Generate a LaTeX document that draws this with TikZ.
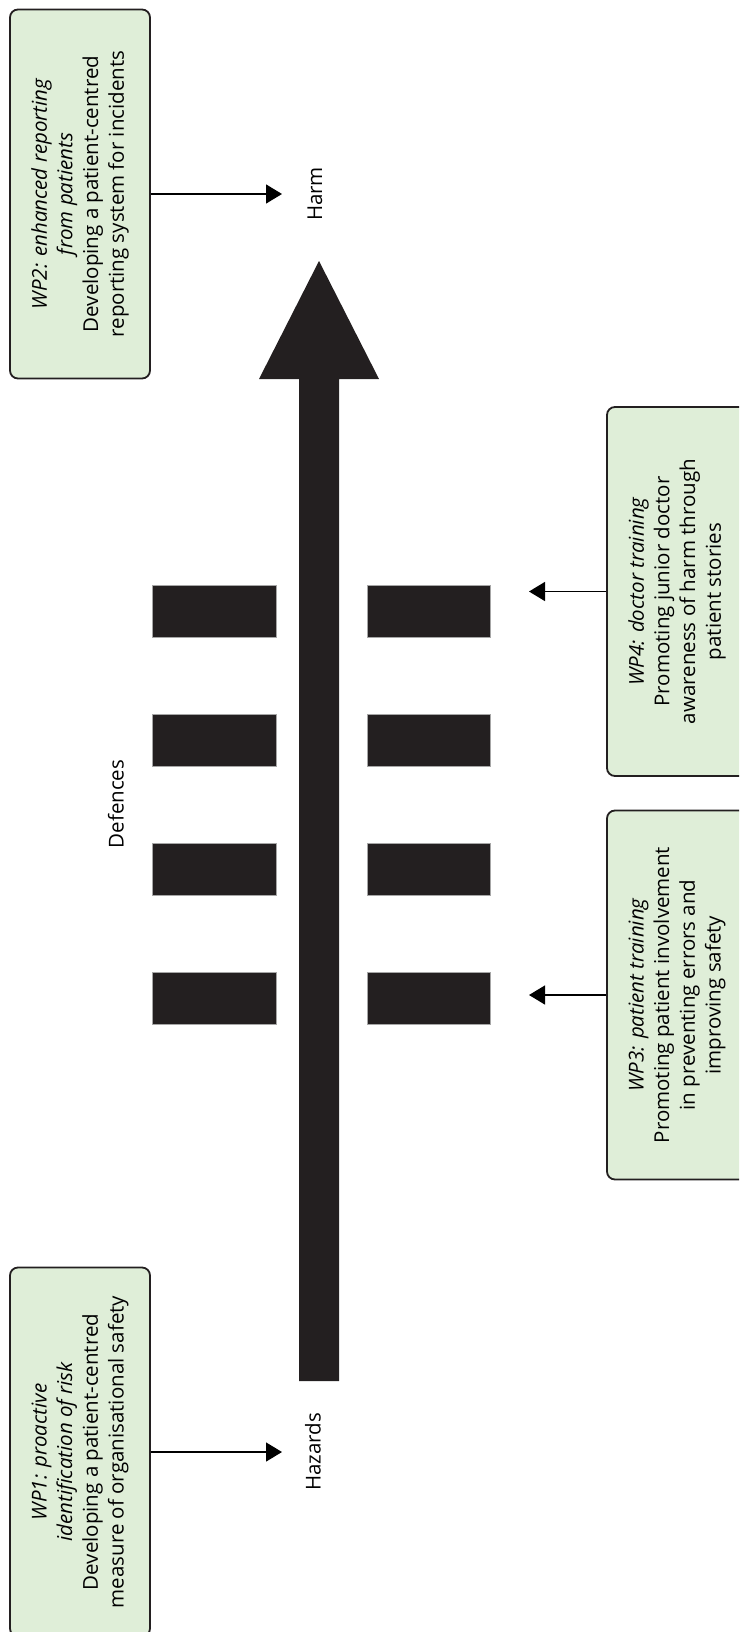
\documentclass[tikz,border=0pt]{standalone}
\usepackage{fontspec}
\setmainfont{Open Sans}
\usetikzlibrary{arrows.meta}
\definecolor{ink}{RGB}{35,31,32}
\definecolor{boxfill}{RGB}{223,238,216}
\begin{document}
\begin{tikzpicture}[x=1pt,y=-1pt,
  wpbox/.style={draw=ink, line width=1.8pt, fill=boxfill, rounded corners=8pt,
    rotate=90, minimum width=369pt, minimum height=140pt, inner sep=0pt,
    align=center, text=black, font=\fontsize{20.5}{25.7}\selectfont},
  endlabel/.style={rotate=90, text=black, inner sep=0pt, font=\fontsize{20.5}{25}\selectfont},
  link/.style={line width=1.4pt, draw=black, -{Triangle[length=16pt,width=19pt]}},
  defence/.style={fill=ink, draw=gray!70, line width=0.5pt}]

\useasboundingbox (0,0) rectangle (739,1632);
\clip (0,0) rectangle (739,1632);

% central hazard-to-harm arrow
\fill[ink] (299,1381) -- (299,379) -- (259,379) -- (319,261) -- (379,379)
  -- (339,379) -- (339,1381) -- cycle;

% defence layers on both sides of the arrow
\foreach \yt in {585,714,843,972} {
  \filldraw[defence] (152,\yt) rectangle (276,\yt+52);
  \filldraw[defence] (367,\yt) rectangle (490,\yt+52);
}

% labels
\node[endlabel] (harm) at (315,194) {Harm};
\node[endlabel] (hazards) at (313,1452) {Hazards};
\node[endlabel] (defences) at (116,804) {Defences};

% work package boxes
\node[wpbox] (wp2) at (80,194) {{\itshape WP2: enhanced reporting}\\{\itshape from patients}\\Developing a patient-centred\\reporting system for incidents};
\node[wpbox] (wp1) at (80,1452) {{\itshape WP1: proactive}\\{\itshape identification of risk}\\Developing a patient-centred\\measure of organisational safety};
\node[wpbox] (wp4) at (677,591.5) {{\itshape WP4: doctor training}\\Promoting junior doctor\\awareness of harm through\\patient stories};
\node[wpbox] (wp3) at (677,995) {{\itshape WP3: patient training}\\Promoting patient involvement\\in preventing errors and\\improving safety};

% arrow end points
\coordinate (harmtip) at (282,194);
\coordinate (hazardtip) at (282,1452);
\coordinate (wp4tip) at (529,591.5);
\coordinate (wp3tip) at (529,995);

% connectors
\draw[link] (wp2.south) -- (harmtip);
\draw[link] (wp1.south) -- (hazardtip);
\draw[link] (wp4.north) -- (wp4tip);
\draw[link] (wp3.north) -- (wp3tip);
\end{tikzpicture}
\end{document}
